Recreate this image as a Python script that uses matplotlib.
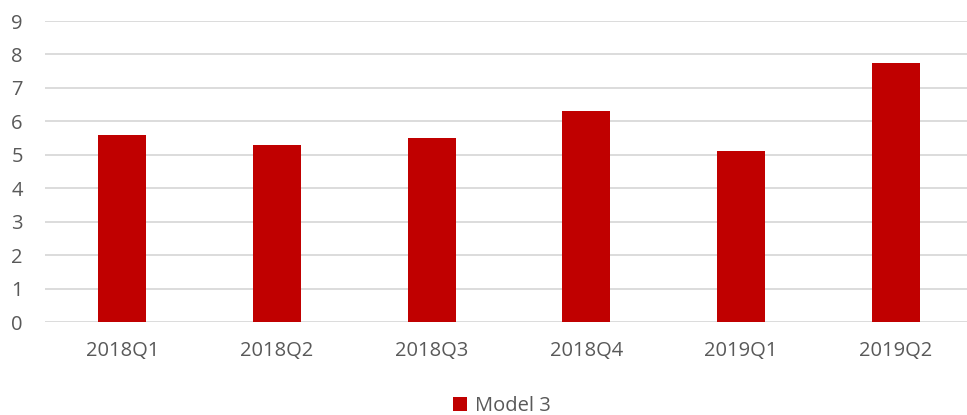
import matplotlib
matplotlib.use("Agg")
import matplotlib.pyplot as plt

categories = ["2018Q1", "2018Q2", "2018Q3", "2018Q4", "2019Q1", "2019Q2"]
values = [5.6, 5.3, 5.5, 6.3, 5.1, 7.75]
series_name = "Model 3"
yticks = list(range(0, 10))

plt.rcParams['font.family'] = ['Open Sans', 'DejaVu Sans']
fig = plt.figure(figsize=(9.67, 4.15), dpi=100)
ax = fig.add_axes([45/967, 1 - 322/415, 928/967, 301/415])

x = list(range(len(categories)))
ax.bar(x, values, width=0.31, color="#C00000", label=series_name, zorder=3)
ax.set_xlim(-0.5, len(categories) - 0.5)
ax.set_ylim(0, 9)
ax.set_yticks(yticks)
ax.set_xticks(x)
ax.set_xticklabels(categories)
ax.grid(axis='y', color='#D9D9D9', linewidth=1.3, zorder=0)
ax.grid(axis='x', visible=False)
for s in ax.spines.values():
    s.set_visible(False)
ax.tick_params(length=0, labelsize=14.5, colors='#595959')
ax.tick_params(axis='y', pad=16)
ax.tick_params(axis='x', pad=14)

leg = fig.legend(loc='center', bbox_to_anchor=(502/967, 1 - 406/415), frameon=False,
                 fontsize=14.5, handlelength=0.7, handleheight=0.7, handletextpad=0.4)
for t in leg.get_texts():
    t.set_color('#595959')

fig.savefig("out.png", dpi=100)
